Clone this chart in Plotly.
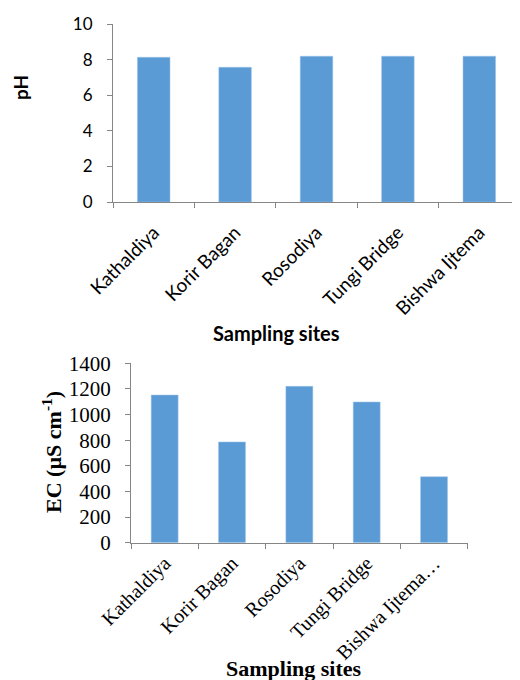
import plotly.graph_objects as go

sites = ["Kathaldiya", "Korir Bagan", "Rosodiya", "Tungi Bridge", "Bishwa Ijtema"]
ec_tick_labels = ["Kathaldiya", "Korir Bagan", "Rosodiya", "Tungi Bridge", "Bishwa Ijtema…"]
ph_values = [8.13, 7.57, 8.19, 8.19, 8.19]
ec_values = [1152, 786, 1220, 1098, 515]
ph_ticks = [0, 2, 4, 6, 8, 10]
ec_ticks = [0, 200, 400, 600, 800, 1000, 1200, 1400]

BAR = "#5B9BD5"
AX = "#868686"
OFF = 8  # page body margin
W, H = 520 - OFF, 680 - OFF

def px(x):
    return min(max((x - OFF) / W, 0), 1)

def py(y):
    return min(max(1 - (y - OFF) / H, 0), 1)

fig = go.Figure()
fig.add_trace(go.Bar(x=sites, y=ph_values, marker=dict(color=BAR, line=dict(color="#9DC3E6", width=0.5)),
                     xaxis="x", yaxis="y", showlegend=False))
fig.add_trace(go.Bar(x=ec_tick_labels, y=ec_values, marker=dict(color=BAR, line=dict(color="#9DC3E6", width=0.5)),
                     xaxis="x2", yaxis="y2", showlegend=False))

calibri = "Lato, Carlito, Calibri, sans-serif"
times = "Liberation Serif, Times New Roman, serif"

fig.update_layout(
    width=W, height=H,
    margin=dict(l=0, r=0, t=0, b=0, autoexpand=False),
    paper_bgcolor="white", plot_bgcolor="white",
    bargap=0.6,
    xaxis=dict(domain=[px(113), 1.0], anchor="y", type="category", automargin=False,
               showline=True, linecolor=AX, linewidth=1,
               ticks="outside", tickson="boundaries", ticklen=5, tickcolor=AX,
               ticklabelstandoff=11,
               tickangle=-45, tickfont=dict(family=calibri, size=19, color="#000"),
               showgrid=False),
    yaxis=dict(domain=[py(202), py(24)], anchor="x", range=[0, 10], automargin=False,
               tickvals=ph_ticks, showline=True, linecolor=AX, linewidth=1,
               ticks="outside", ticklen=5, tickcolor=AX, showgrid=False, zeroline=False,
               ticklabelstandoff=11,
               tickfont=dict(family=calibri, size=17, color="#000")),
    xaxis2=dict(domain=[px(131), px(467.7)], anchor="y2", type="category", automargin=False,
                showline=True, linecolor=AX, linewidth=1,
                ticks="outside", tickson="boundaries", ticklen=5, tickcolor=AX,
                tickangle=-45, tickfont=dict(family=times, size=20, color="#000"),
                showgrid=False),
    yaxis2=dict(domain=[py(542.7), py(363.3)], anchor="x2", range=[0, 1400], automargin=False,
                tickvals=ec_ticks, showline=True, linecolor=AX, linewidth=1,
                ticks="outside", ticklen=5, tickcolor=AX, showgrid=False, zeroline=False,
                ticklabelstandoff=10,
                tickfont=dict(family=times, size=21, color="#000")),
    annotations=[
        dict(text="<b>pH</b>", x=px(20), y=py(88), xref="paper", yref="paper",
             xanchor="center", yanchor="middle",
             textangle=-90, showarrow=False, font=dict(family=calibri, size=19, color="#000")),
        dict(text="<b>Sampling sites</b>", x=px(276), y=py(333), xref="paper", yref="paper",
             xanchor="center", yanchor="middle",
             showarrow=False, font=dict(family=calibri, size=20, color="#000")),
        dict(text="<b>EC (µS cm<sup>-1</sup>)</b>", x=px(52), y=py(452), xref="paper", yref="paper",
             xanchor="center", yanchor="middle",
             textangle=-90, showarrow=False, font=dict(family=times, size=22, color="#000")),
        dict(text="<b>Sampling sites</b>", x=px(294), y=py(668), xref="paper", yref="paper",
             xanchor="center", yanchor="middle",
             showarrow=False, font=dict(family=times, size=22, color="#000")),
    ],
)

fig.write_html("out.html")
